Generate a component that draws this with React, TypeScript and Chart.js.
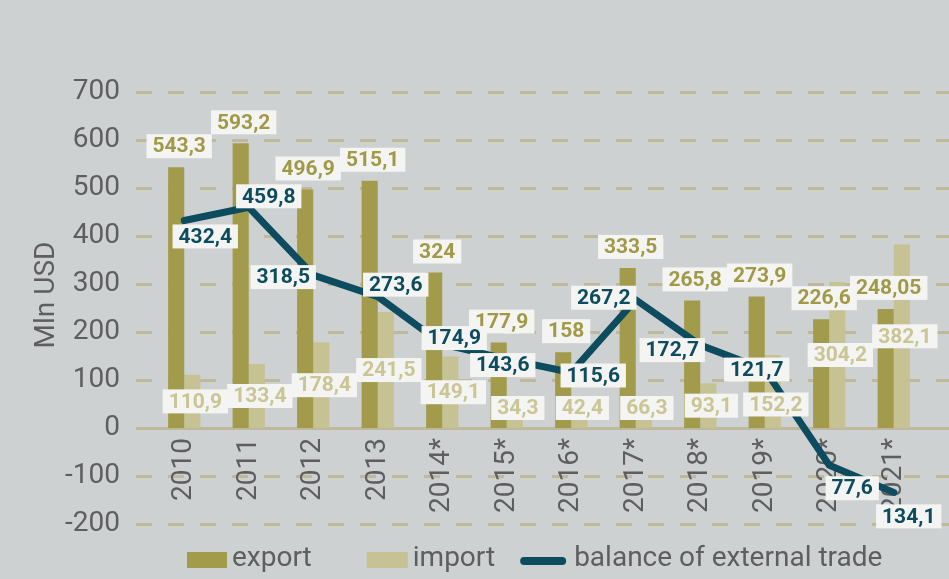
import React, { useEffect, useRef } from "react";
import { Chart, registerables } from "chart.js";

Chart.register(...registerables);

// ---- data ----
const years = ["2010", "2011", "2012", "2013", "2014*", "2015*", "2016*", "2017*", "2018*", "2019*", "2020*", "2021*"];
const exportValues = [543.3, 593.2, 496.9, 515.1, 324, 177.9, 158, 333.5, 265.8, 273.9, 226.6, 248.05];
const importValues = [110.9, 133.4, 178.4, 241.5, 149.1, 34.3, 42.4, 66.3, 93.1, 152.2, 304.2, 382.1];
const balanceValues = [432.4, 459.8, 318.5, 273.6, 174.9, 143.6, 115.6, 267.2, 172.7, 121.7, -77.6, -134.1];
const yTickValues = [-200, -100, 0, 100, 200, 300, 400, 500, 600, 700];
const legendLabels = ["export", "import", "balance of external trade"];
const yAxisTitle = "Mln USD";

// ---- label layout (pixel nudges for data labels, not data) ----
const balanceLabelOffsets: [number, number][] = [
  [21, 16], [20, -11], [-30, 2], [18, -12], [12, -6], [-4, 6],
  [22, 3], [-32, -2], [-28, 5], [-8, 0], [23, 23], [15, 24],
];
const importLabelShift = [0, 0, 0, 0, 0, 0, 0, 0, 0, 13, 0, 0];

// ---- styles ----
const FONT = "Roboto";
const BG = "#ced1d2";
const GRID = "#bfb89c";
const EXP = "#a19b4b";
const IMP = "#c6c293";
const TEAL = "#0d4b5f";
const EXP_TXT = "#a09a48";
const IMP_TXT = "#cac595";
const BOX = "#f4f4f2";
const TXT = "#5e5e5e";

const fmt = (v: number) => String(Math.abs(v)).replace(".", ",");

const bgGridPlugin = {
  id: "bgGrid",
  beforeDraw(chart: any) {
    const c = chart.ctx;
    const ys = chart.scales.y;
    c.save();
    c.fillStyle = BG;
    c.fillRect(0, 0, chart.width, chart.height);
    c.strokeStyle = GRID;
    c.lineWidth = 3;
    const x0 = 136;
    const x1 = chart.width;
    yTickValues.forEach((v) => {
      const y = Math.round(ys.getPixelForValue(v)) + 0.5;
      c.setLineDash(v === 0 ? [] : [16, 16]);
      c.beginPath();
      c.moveTo(x0, y);
      c.lineTo(x1, y);
      c.stroke();
    });
    c.setLineDash([]);
    // y axis title
    c.fillStyle = TXT;
    c.font = `28px ${FONT}`;
    c.textAlign = "center";
    c.textBaseline = "middle";
    c.translate(47, 295);
    c.rotate(-Math.PI / 2);
    c.fillText(yAxisTitle, 0, 0);
    c.restore();
  },
};

const labelsPlugin = {
  id: "dataLabels",
  afterDatasetsDraw(chart: any) {
    const c = chart.ctx;
    const ys = chart.scales.y;
    const lineMeta = chart.getDatasetMeta(0);
    const expMeta = chart.getDatasetMeta(1);
    const impMeta = chart.getDatasetMeta(2);
    c.save();
    c.font = `bold 21px ${FONT}`;
    c.textAlign = "center";
    c.textBaseline = "middle";
    const box = (text: string, x: number, y: number, color: string) => {
      const w = c.measureText(text).width + 12;
      c.fillStyle = BOX;
      c.fillRect(x - w / 2, y - 12, w, 24);
      c.fillStyle = color;
      c.fillText(text, x, y + 1);
    };
    exportValues.forEach((v, i) => {
      const b = expMeta.data[i];
      box(fmt(v), b.x + 3, b.y - 21, EXP_TXT);
    });
    importValues.forEach((v, i) => {
      const b = impMeta.data[i];
      const y = Math.min(ys.getPixelForValue(v / 2), ys.getPixelForValue(0) - 20) + importLabelShift[i];
      box(fmt(v), b.x + 3, y, IMP_TXT);
    });
    balanceValues.forEach((v, i) => {
      const p = lineMeta.data[i];
      const [dx, dy] = balanceLabelOffsets[i];
      box(fmt(v), p.x + dx, p.y + dy, TEAL);
    });
    c.restore();
  },
  afterDraw(chart: any) {
    const c = chart.ctx;
    c.save();
    c.font = `28px ${FONT}`;
    c.textBaseline = "middle";
    c.textAlign = "left";
    const y = 560;
    let x = 187;
    // export
    c.fillStyle = EXP;
    c.fillRect(x, y - 8, 40, 16);
    x += 45;
    c.fillStyle = TXT;
    c.fillText(legendLabels[0], x, y - 1);
    x += c.measureText(legendLabels[0]).width + 55;
    // import
    c.fillStyle = IMP;
    c.fillRect(x, y - 8, 41, 16);
    x += 46;
    c.fillStyle = TXT;
    c.fillText(legendLabels[1], x, y - 1);
    x += c.measureText(legendLabels[1]).width + 29;
    // balance line
    c.strokeStyle = TEAL;
    c.lineWidth = 8;
    c.lineCap = "round";
    c.beginPath();
    c.moveTo(x, y + 1);
    c.lineTo(x + 38, y + 1);
    c.stroke();
    x += 50;
    c.fillStyle = TXT;
    c.fillText(legendLabels[2], x, y - 1);
    c.restore();
  },
};

export default function App() {
  const ref = useRef<HTMLCanvasElement>(null);
  useEffect(() => {
    document.body.style.margin = "0";
    const canvas = ref.current;
    if (!canvas) return;
    const chart = new Chart(canvas, {
      type: "bar",
      data: {
        labels: years,
        datasets: [
          {
            type: "line",
            label: legendLabels[2],
            data: balanceValues,
            borderColor: TEAL,
            backgroundColor: TEAL,
            borderWidth: 7,
            pointRadius: 0,
            tension: 0,
            borderJoinStyle: "round",
            borderCapStyle: "round",
            order: 0,
          } as any,
          {
            label: legendLabels[0],
            data: exportValues,
            backgroundColor: EXP,
            barPercentage: 1,
            categoryPercentage: 0.5,
            order: 1,
          },
          {
            label: legendLabels[1],
            data: importValues,
            backgroundColor: IMP,
            barPercentage: 1,
            categoryPercentage: 0.5,
            order: 1,
          },
        ],
      },
      options: {
        responsive: false,
        animation: false,
        devicePixelRatio: 1,
        layout: { padding: { left: 0, right: 23, top: 92, bottom: 55 } },
        plugins: { legend: { display: false }, tooltip: { enabled: false } },
        scales: {
          x: {
            position: { y: 0 } as any,
            offset: true,
            grid: { display: false, drawTicks: false },
            border: { display: false },
            ticks: {
              autoSkip: false,
              maxRotation: 90,
              minRotation: 90,
              padding: 10,
              color: TXT,
              font: { family: FONT, size: 28 },
            },
          },
          y: {
            min: -200,
            max: 700,
            afterFit: (s: any) => {
              s.width = 152;
            },
            afterBuildTicks: (s: any) => {
              s.ticks = yTickValues.map((v) => ({ value: v }));
            },
            grid: { display: false, drawTicks: false },
            border: { display: false },
            ticks: {
              padding: 32,
              color: TXT,
              font: { family: FONT, size: 28 },
              callback: (v: any) => String(v),
            },
          },
        },
      },
      plugins: [bgGridPlugin, labelsPlugin],
    });
    return () => chart.destroy();
  }, []);
  return (
    <div style={{ position: "absolute", left: 0, top: 0, width: 949, height: 579 }}>
      <canvas ref={ref} width={949} height={579} style={{ display: "block", width: 949, height: 579 }} />
    </div>
  );
}
